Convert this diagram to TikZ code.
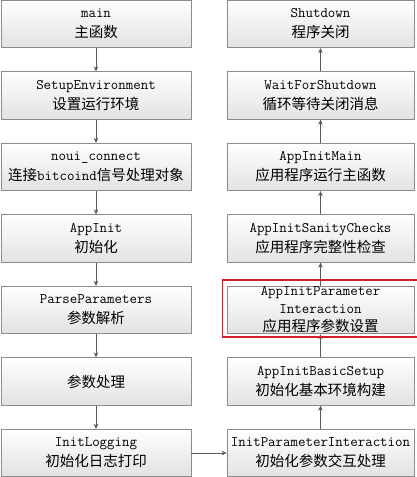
\documentclass[tikz,border=0pt]{standalone}
\usepackage{fontspec}
\newfontfamily\zh{Noto Sans CJK SC}
\usepackage{tikz}
\usetikzlibrary{arrows.meta,positioning,fit}
\definecolor{boxline}{HTML}{8C8C8C}
\definecolor{boxfill}{HTML}{E2E2E2}
\definecolor{flowgray}{HTML}{5A5A5A}
\definecolor{markred}{HTML}{D0202E}

\begin{document}
\begin{tikzpicture}[->,>={Stealth[length=5pt,width=4.5pt]},auto,node distance=71.5pt,on grid,
			base node/.style={draw=boxline,line width=0.8pt,top color=white,bottom color=boxfill,minimum height=47.5pt,inner ysep=0pt,align=center,font=\fontsize{14.5}{20}\selectfont\ttfamily},
			left node/.style={base node,minimum width=190pt}, right node/.style={base node,minimum width=187pt},
			flow/.style={draw=flowgray,line width=0.7pt}]

			\useasboundingbox (0,0) rectangle (417pt,-477pt);

			\node[left node] (1) at (96pt,-24pt) {main\\{\zh 主函数}};
			\node[left node] (2) [below=of 1] {SetupEnvironment\\{\zh 设置运行环境}};
			\node[left node] (3) [below=of 2] {noui\_connect\\{\zh 连接}bitcoind{\zh 信号处理对象}};
			\node[left node] (4) [below=of 3] {AppInit\\{\zh 初始化}};
			\node[left node] (5) [below=of 4] {ParseParameters\\{\zh 参数解析}};
			\node[left node] (6) [below=of 5] {{\zh 参数处理}};
			\node[left node] (7) [below=of 6] {InitLogging\\{\zh 初始化日志打印}};
			\node[right node] (8) [right=224.5pt of 7] {InitParameterInteraction\\{\zh 初始化参数交互处理}};
			\node[right node] (9) [above=of 8] {AppInitBasicSetup\\{\zh 初始化基本环境构建}};
			\node[right node,font=\fontsize{14.5}{18}\selectfont\ttfamily] (10) [above=of 9] {AppInitParameter\\Interaction\\{\zh 应用程序参数设置}};
			\node[right node] (11) [above=of 10] {AppInitSanityChecks\\{\zh 应用程序完整性检查}};
			\node[right node] (12) [above=of 11] {AppInitMain\\{\zh 应用程序运行主函数}};
			\node[right node] (13) [above=of 12] {WaitForShutdown\\{\zh 循环等待关闭消息}};
			\node[right node] (14) [above=of 13] {Shutdown\\{\zh 程序关闭}};

			\path[flow]
			(1) edge (2)
			(2) edge (3)
			(3) edge (4)
			(4) edge (5)
			(5) edge (6)
			(6) edge (7)
			(7) edge (8)
			(8) edge (9)
			(9) edge (10)
			(10) edge (11)
			(11) edge (12)
			(12) edge (13)
			(13) edge (14);

			\node[fit=(10),draw=markred,line width=1.6pt,inner xsep=4pt,inner ysep=4.5pt,yshift=1.5pt] (mark) {};

		\end{tikzpicture}
\end{document}
